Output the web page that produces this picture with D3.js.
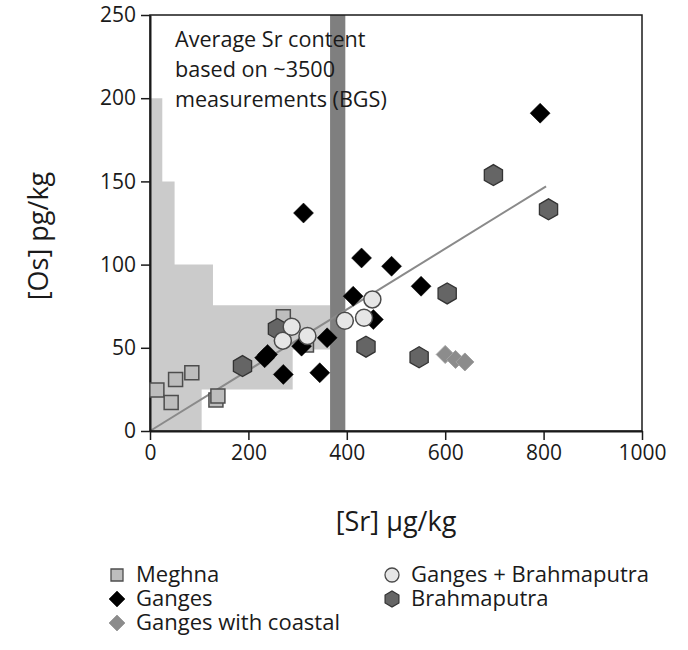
<!DOCTYPE html>
<html><head><meta charset="utf-8">
<script src="https://cdn.jsdelivr.net/npm/d3@7"></script>
<style>
body{margin:0;background:#fff;}
text{font-family:"Open Sans",sans-serif;fill:#1a1a1a;}
</style></head>
<body><svg id="c" width="688" height="650"></svg>
<script>
// ---- data ----
const xTicks = [0, 200, 400, 600, 800, 1000];
const yTicks = [0, 50, 100, 150, 200, 250];

const meghnaSr = [14, 43, 52, 85, 134, 138, 271, 318];
const meghnaOs = [24.6, 17.2, 31, 35, 18.6, 21, 68.7, 51.7];

const brahSr = [188, 259, 439, 547, 604, 698, 810];
const brahOs = [39, 61.3, 50.7, 44.3, 82.7, 153.8, 133.2];

const gangesSr = [312, 233, 239, 271, 308, 345, 360, 413, 430, 454, 491, 551, 793];
const gangesOs = [131, 44, 46, 34, 51, 35, 56, 81, 104, 67, 99, 87, 191];

const coastalSr = [600, 621, 640];
const coastalOs = [46, 43, 41.5];

const gbSr = [270, 288, 320, 396, 435, 452];
const gbOs = [54.3, 62.7, 57.1, 66.3, 68.1, 79.1];

// BGS Sr distribution outline (Sr, Os)
const bgsSr = [0, 0, 25, 25, 50, 50, 128, 128, 366, 366, 290, 290, 105, 105];
const bgsOs = [0, 200, 200, 150, 150, 100, 100, 75.5, 75.5, 49, 49, 25, 25, 0];

const bandSr = [366, 397];
const fitSr = [0, 805];
const fitOs = [0, 147];

const noteLines = ["Average Sr content", "based on ~3500", "measurements (BGS)"];
const legendNames = ["Meghna", "Ganges", "Ganges with coastal", "Ganges + Brahmaputra", "Brahmaputra"];

// ---- drawing ----
const svg = d3.select("#c");
const x = d3.scaleLinear().domain([0, 1000]).range([150, 642]);
const y = d3.scaleLinear().domain([0, 250]).range([431, 15]);

// shaded region
svg.append("path")
  .attr("d", d3.line()(bgsSr.map((s, i) => [x(s), y(bgsOs[i])])) + "Z")
  .attr("fill", "#cbcbcb");

// average band
svg.append("rect")
  .attr("x", x(bandSr[0])).attr("width", x(bandSr[1]) - x(bandSr[0]))
  .attr("y", y(250)).attr("height", y(0) - y(250))
  .attr("fill", "#7f7f7f");

// note text
svg.append("g").selectAll("text").data(noteLines).join("text")
  .attr("x", 175).attr("y", (d, i) => 47 + i * 30)
  .attr("font-size", 21.6).text(d => d);

// fit line
svg.append("line")
  .attr("x1", x(fitSr[0])).attr("y1", y(fitOs[0]))
  .attr("x2", x(fitSr[1])).attr("y2", y(fitOs[1]))
  .attr("stroke", "#8a8a8a").attr("stroke-width", 2);

// frame
svg.append("rect").attr("x", x(0)).attr("y", y(250))
  .attr("width", x(1000) - x(0)).attr("height", y(0) - y(250))
  .attr("fill", "none").attr("stroke", "#1a1a1a").attr("stroke-width", 1.5);

// axes
const ax = svg.append("g").attr("transform", `translate(0,${y(0)})`)
  .call(d3.axisBottom(x).tickValues(xTicks).tickFormat(d3.format("d")).tickSize(9).tickSizeOuter(0).tickPadding(5));
const ay = svg.append("g").attr("transform", `translate(${x(0)},0)`)
  .call(d3.axisLeft(y).tickValues(yTicks).tickFormat(d3.format("d")).tickSize(9).tickSizeOuter(0).tickPadding(5));
[ax, ay].forEach(g => {
  g.select(".domain").attr("stroke", "#1a1a1a").attr("stroke-width", 2);
  g.selectAll(".tick line").attr("stroke", "#1a1a1a").attr("stroke-width", 1.5);
  g.selectAll(".tick text").attr("font-size", 21).attr("font-family", "Open Sans").attr("fill", "#1a1a1a");
});

// axis titles
svg.append("text").attr("x", 396).attr("y", 531).attr("text-anchor", "middle")
  .attr("font-size", 27).text("[Sr] µg/kg");
svg.append("text").attr("transform", "translate(48,236) rotate(-90)").attr("text-anchor", "middle")
  .attr("font-size", 27).text("[Os] pg/kg");

// marker shapes
function hexPath(r) {
  const pts = d3.range(6).map(i => {
    const a = Math.PI / 6 + i * Math.PI / 3;
    return [r * Math.cos(a), r * Math.sin(a)];
  });
  return d3.line()(pts) + "Z";
}
function diamondPath(r) { return `M0,${-r}L${r},0L0,${r}L${-r},0Z`; }
function squarePath(h) { return `M${-h},${-h}H${h}V${h}H${-h}Z`; }

const styles = {
  meghna: { d: squarePath(7), fill: "#bdbdbd", stroke: "#4d4d4d", sw: 1.5 },
  ganges: { d: diamondPath(10), fill: "#000", stroke: "#000", sw: 0.5 },
  coastal: { d: diamondPath(9), fill: "#8c8c8c", stroke: "#a0a0a0", sw: 1 },
  gb: { d: null, r: 8.5, fill: "#e6e6e6", stroke: "#4a4a4a", sw: 1.5 },
  brah: { d: hexPath(10.5), fill: "#656565", stroke: "#333", sw: 1.3 }
};

function drawSeries(srArr, osArr, st) {
  const g = svg.append("g");
  const pts = srArr.map((s, i) => [x(s), y(osArr[i])]);
  if (st.d) {
    g.selectAll("path").data(pts).join("path")
      .attr("transform", p => `translate(${p[0]},${p[1]})`)
      .attr("d", st.d).attr("fill", st.fill).attr("stroke", st.stroke).attr("stroke-width", st.sw);
  } else {
    g.selectAll("circle").data(pts).join("circle")
      .attr("cx", p => p[0]).attr("cy", p => p[1]).attr("r", st.r)
      .attr("fill", st.fill).attr("stroke", st.stroke).attr("stroke-width", st.sw);
  }
}
drawSeries(meghnaSr, meghnaOs, styles.meghna);
drawSeries(brahSr, brahOs, styles.brah);
drawSeries(gangesSr, gangesOs, styles.ganges);
drawSeries(coastalSr, coastalOs, styles.coastal);
drawSeries(gbSr, gbOs, styles.gb);

// legend
const legend = [
  { name: legendNames[0], st: { d: squarePath(6), fill: "#bdbdbd", stroke: "#4d4d4d", sw: 1.3 }, lx: 117, ly: 575 },
  { name: legendNames[1], st: { d: diamondPath(8), fill: "#000", stroke: "#000", sw: 0.5 }, lx: 117, ly: 599 },
  { name: legendNames[2], st: { d: diamondPath(8), fill: "#8c8c8c", stroke: "#a0a0a0", sw: 1 }, lx: 117, ly: 623 },
  { name: legendNames[3], st: { circle: true, r: 7, fill: "#e6e6e6", stroke: "#4a4a4a", sw: 1.3 }, lx: 392, ly: 575 },
  { name: legendNames[4], st: { d: hexPath(8), fill: "#656565", stroke: "#333", sw: 1.2 }, lx: 392, ly: 599 }
];
const lg = svg.append("g");
legend.forEach(it => {
  if (it.st.circle) {
    lg.append("circle").attr("cx", it.lx).attr("cy", it.ly).attr("r", it.st.r)
      .attr("fill", it.st.fill).attr("stroke", it.st.stroke).attr("stroke-width", it.st.sw);
  } else {
    lg.append("path").attr("transform", `translate(${it.lx},${it.ly})`).attr("d", it.st.d)
      .attr("fill", it.st.fill).attr("stroke", it.st.stroke).attr("stroke-width", it.st.sw);
  }
  lg.append("text").attr("x", it.lx + 19).attr("y", it.ly + 7).attr("font-size", 22).text(it.name);
});
</script></body></html>
